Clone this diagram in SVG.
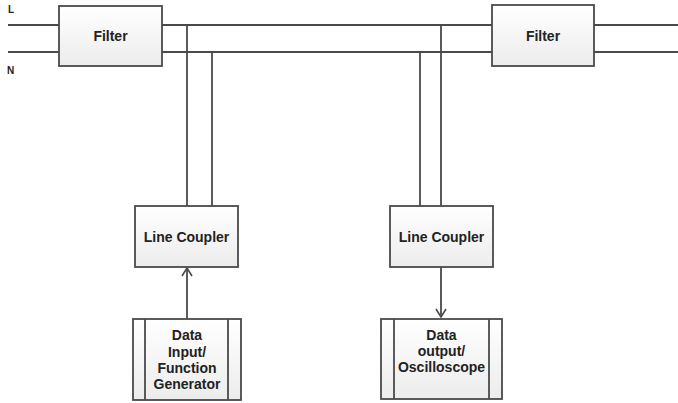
<svg xmlns="http://www.w3.org/2000/svg" width="678" height="403" viewBox="0 0 678 403">
<style>
.box{fill:url(#g);stroke:#4a4a4a;stroke-width:1.8}
.ln{fill:none;stroke:#4a4a4a;stroke-width:1.8}
.t{font-family:"Liberation Sans",Arial,sans-serif;font-weight:bold;font-size:14px;fill:#222;text-anchor:middle;dominant-baseline:central}
.s{font-family:"Liberation Sans",Arial,sans-serif;font-weight:bold;font-size:10px;fill:#222}
</style>
<defs>
<linearGradient id="g" x1="0" y1="0" x2="0" y2="1">
<stop offset="0" stop-color="#ffffff"/>
<stop offset="1" stop-color="#ececec"/>
</linearGradient>
<marker id="a" markerWidth="12" markerHeight="12" refX="10" refY="6" orient="auto" markerUnits="userSpaceOnUse">
<path d="M2,1 L10,6 L2,11" fill="none" stroke="#4a4a4a" stroke-width="1.6"/>
</marker>
</defs>
<rect width="678" height="403" fill="#fff"/>
<text class="s" x="8" y="13">L</text>
<text class="s" x="7" y="74">N</text>
<g id="connectors">
<line class="ln" x1="8" y1="25" x2="59" y2="25"/>
<line class="ln" x1="8" y1="52" x2="59" y2="52"/>
<line class="ln" x1="162" y1="25" x2="492" y2="25"/>
<line class="ln" x1="162" y1="52" x2="492" y2="52"/>
<line class="ln" x1="594" y1="25" x2="678" y2="25"/>
<line class="ln" x1="594" y1="52" x2="678" y2="52"/>
<line class="ln" x1="187" y1="25" x2="187" y2="206"/>
<line class="ln" x1="212" y1="52" x2="212" y2="206"/>
<line class="ln" x1="441" y1="25" x2="441" y2="206"/>
<line class="ln" x1="420" y1="52" x2="420" y2="206"/>
<line class="ln" x1="187" y1="319" x2="187" y2="268" marker-end="url(#a)"/>
<line class="ln" x1="441" y1="267" x2="441" y2="317" marker-end="url(#a)"/>
</g>
<g id="filter1">
<rect class="box" x="59" y="6" width="103" height="60"/>
<text class="t" x="110.5" y="36">Filter</text>
</g>
<g id="filter2">
<rect class="box" x="492" y="5" width="102" height="61"/>
<text class="t" x="543" y="36">Filter</text>
</g>
<g id="coupler1">
<rect class="box" x="135" y="206" width="103" height="61"/>
<text class="t" x="186.5" y="237">Line Coupler</text>
</g>
<g id="coupler2">
<rect class="box" x="390" y="206" width="103" height="61"/>
<text class="t" x="441.5" y="237">Line Coupler</text>
</g>
<g id="datain">
<rect class="box" x="133" y="319" width="108" height="81"/>
<line class="ln" x1="145" y1="319" x2="145" y2="400"/>
<line class="ln" x1="228" y1="319" x2="228" y2="400"/>
<text class="t" x="187" y="335">Data</text>
<text class="t" x="187" y="351.5">Input/</text>
<text class="t" x="187" y="368">Function</text>
<text class="t" x="187" y="384">Generator</text>
</g>
<g id="dataout">
<rect class="box" x="381" y="319" width="121" height="80"/>
<line class="ln" x1="394" y1="319" x2="394" y2="399"/>
<line class="ln" x1="489" y1="319" x2="489" y2="399"/>
<text class="t" x="441.5" y="335">Data</text>
<text class="t" x="441.5" y="351">output/</text>
<text class="t" x="441.5" y="367">Oscilloscope</text>
</g>
</svg>
